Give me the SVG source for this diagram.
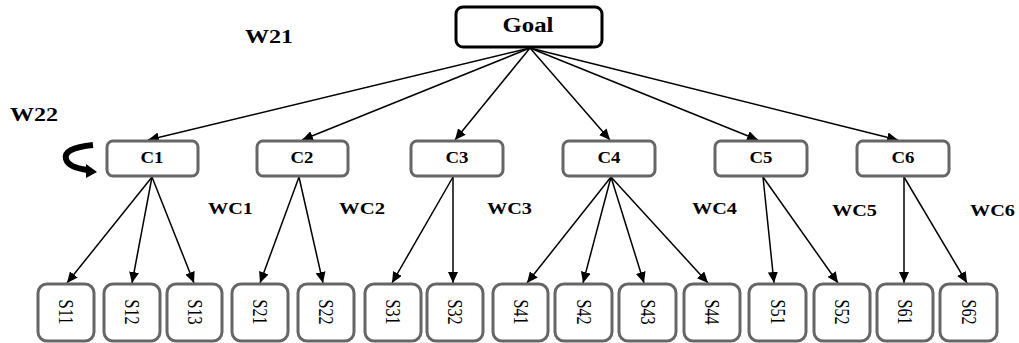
<svg xmlns="http://www.w3.org/2000/svg" width="1019" height="343" viewBox="0 0 1019 343">
<style>
.cbox{fill:#fff;stroke:#666;stroke-width:3}
.sbox{fill:#fff;stroke:#666;stroke-width:3}
.gbox{fill:#fff;stroke:#000;stroke-width:3}
text{font-family:'Liberation Serif','Times New Roman',Times,'DejaVu Serif',serif}
.b{font-weight:bold;fill:#000}
.s{fill:#000;font-size:20px}
.e{stroke:#000;stroke-width:1.5;fill:none;marker-end:url(#ah)}
</style>
<defs>
<marker id="ah" markerUnits="userSpaceOnUse" markerWidth="12" markerHeight="10" refX="11" refY="5" orient="auto">
<path d="M0,0 L11,5 L0,10 z" fill="#000"/>
</marker>
</defs>
<g id="edges">
<line class="e" x1="530" y1="48" x2="148" y2="140"/>
<line class="e" x1="530" y1="48" x2="302" y2="140"/>
<line class="e" x1="530" y1="48" x2="455" y2="140"/>
<line class="e" x1="530" y1="48" x2="610" y2="140"/>
<line class="e" x1="530" y1="48" x2="758" y2="140"/>
<line class="e" x1="530" y1="48" x2="898" y2="140"/>
<line class="e" x1="152" y1="177" x2="67" y2="283"/>
<line class="e" x1="152" y1="177" x2="132" y2="283"/>
<line class="e" x1="152" y1="177" x2="194" y2="283"/>
<line class="e" x1="299" y1="177" x2="260" y2="283"/>
<line class="e" x1="299" y1="177" x2="323" y2="283"/>
<line class="e" x1="453" y1="177" x2="392" y2="283"/>
<line class="e" x1="453" y1="177" x2="453" y2="283"/>
<line class="e" x1="611" y1="177" x2="527" y2="283"/>
<line class="e" x1="611" y1="177" x2="583" y2="283"/>
<line class="e" x1="611" y1="177" x2="644" y2="283"/>
<line class="e" x1="611" y1="177" x2="708" y2="283"/>
<line class="e" x1="763" y1="177" x2="774" y2="283"/>
<line class="e" x1="763" y1="177" x2="838" y2="283"/>
<line class="e" x1="904" y1="177" x2="904" y2="283"/>
<line class="e" x1="904" y1="177" x2="967" y2="283"/>
</g>
<g id="loop">
<path d="M93,145 C72,147 64,152 66,159 C68,166 76,168 87,170" fill="none" stroke="#000" stroke-width="6"/>
<path d="M86,164 L97,172 L86,178 z" fill="#000"/>
</g>
<g id="Goal">
<rect class="gbox" x="456" y="7" width="146" height="40" rx="7"/>
<text class="b" x="528" y="32" font-size="20" text-anchor="middle" textLength="51" lengthAdjust="spacingAndGlyphs">Goal</text>
</g>
<g id="C1"><rect class="cbox" x="107" y="141" width="91" height="35" rx="6"/><text class="b" x="152" y="163" font-size="17" text-anchor="middle" textLength="23" lengthAdjust="spacingAndGlyphs">C1</text></g>
<g id="C2"><rect class="cbox" x="257" y="141" width="91" height="35" rx="6"/><text class="b" x="302" y="163" font-size="17" text-anchor="middle" textLength="23" lengthAdjust="spacingAndGlyphs">C2</text></g>
<g id="C3"><rect class="cbox" x="411" y="141" width="92" height="35" rx="6"/><text class="b" x="457" y="163" font-size="17" text-anchor="middle" textLength="23" lengthAdjust="spacingAndGlyphs">C3</text></g>
<g id="C4"><rect class="cbox" x="563" y="141" width="92" height="35" rx="6"/><text class="b" x="609" y="163" font-size="17" text-anchor="middle" textLength="23" lengthAdjust="spacingAndGlyphs">C4</text></g>
<g id="C5"><rect class="cbox" x="715" y="141" width="92" height="35" rx="6"/><text class="b" x="761" y="163" font-size="17" text-anchor="middle" textLength="23" lengthAdjust="spacingAndGlyphs">C5</text></g>
<g id="C6"><rect class="cbox" x="857" y="141" width="92" height="35" rx="6"/><text class="b" x="903" y="163" font-size="17" text-anchor="middle" textLength="23" lengthAdjust="spacingAndGlyphs">C6</text></g>
<g id="S11"><rect class="sbox" x="38" y="284" width="56" height="57" rx="9"/><text class="s" transform="translate(59,312) rotate(90)" text-anchor="middle" textLength="25" lengthAdjust="spacingAndGlyphs">S11</text></g>
<g id="S12"><rect class="sbox" x="104" y="284" width="56" height="57" rx="9"/><text class="s" transform="translate(125,312) rotate(90)" text-anchor="middle" textLength="25" lengthAdjust="spacingAndGlyphs">S12</text></g>
<g id="S13"><rect class="sbox" x="167" y="284" width="55" height="57" rx="9"/><text class="s" transform="translate(187.5,312) rotate(90)" text-anchor="middle" textLength="25" lengthAdjust="spacingAndGlyphs">S13</text></g>
<g id="S21"><rect class="sbox" x="232" y="284" width="56" height="57" rx="9"/><text class="s" transform="translate(253,312) rotate(90)" text-anchor="middle" textLength="25" lengthAdjust="spacingAndGlyphs">S21</text></g>
<g id="S22"><rect class="sbox" x="298" y="284" width="56" height="57" rx="9"/><text class="s" transform="translate(319,312) rotate(90)" text-anchor="middle" textLength="25" lengthAdjust="spacingAndGlyphs">S22</text></g>
<g id="S31"><rect class="sbox" x="365" y="284" width="56" height="57" rx="9"/><text class="s" transform="translate(386,312) rotate(90)" text-anchor="middle" textLength="25" lengthAdjust="spacingAndGlyphs">S31</text></g>
<g id="S32"><rect class="sbox" x="427" y="284" width="56" height="57" rx="9"/><text class="s" transform="translate(448,312) rotate(90)" text-anchor="middle" textLength="25" lengthAdjust="spacingAndGlyphs">S32</text></g>
<g id="S41"><rect class="sbox" x="493" y="284" width="55" height="57" rx="9"/><text class="s" transform="translate(513.5,312) rotate(90)" text-anchor="middle" textLength="25" lengthAdjust="spacingAndGlyphs">S41</text></g>
<g id="S42"><rect class="sbox" x="555" y="284" width="57" height="57" rx="9"/><text class="s" transform="translate(576.5,312) rotate(90)" text-anchor="middle" textLength="25" lengthAdjust="spacingAndGlyphs">S42</text></g>
<g id="S43"><rect class="sbox" x="619" y="284" width="57" height="57" rx="9"/><text class="s" transform="translate(640.5,312) rotate(90)" text-anchor="middle" textLength="25" lengthAdjust="spacingAndGlyphs">S43</text></g>
<g id="S44"><rect class="sbox" x="684" y="284" width="56" height="57" rx="9"/><text class="s" transform="translate(705,312) rotate(90)" text-anchor="middle" textLength="25" lengthAdjust="spacingAndGlyphs">S44</text></g>
<g id="S51"><rect class="sbox" x="749" y="284" width="57" height="57" rx="9"/><text class="s" transform="translate(770.5,312) rotate(90)" text-anchor="middle" textLength="25" lengthAdjust="spacingAndGlyphs">S51</text></g>
<g id="S52"><rect class="sbox" x="814" y="284" width="56" height="57" rx="9"/><text class="s" transform="translate(835,312) rotate(90)" text-anchor="middle" textLength="25" lengthAdjust="spacingAndGlyphs">S52</text></g>
<g id="S61"><rect class="sbox" x="877" y="284" width="56" height="57" rx="9"/><text class="s" transform="translate(898,312) rotate(90)" text-anchor="middle" textLength="25" lengthAdjust="spacingAndGlyphs">S61</text></g>
<g id="S62"><rect class="sbox" x="940" y="284" width="57" height="57" rx="9"/><text class="s" transform="translate(961.5,312) rotate(90)" text-anchor="middle" textLength="25" lengthAdjust="spacingAndGlyphs">S62</text></g>
<g id="labels">
<text class="b" x="245" y="43" font-size="18" textLength="48" lengthAdjust="spacingAndGlyphs">W21</text>
<text class="b" x="10" y="121" font-size="18" textLength="48" lengthAdjust="spacingAndGlyphs">W22</text>
<text class="b" x="208" y="214" font-size="16" textLength="45" lengthAdjust="spacingAndGlyphs">WC1</text>
<text class="b" x="339" y="214" font-size="16" textLength="46" lengthAdjust="spacingAndGlyphs">WC2</text>
<text class="b" x="487" y="214" font-size="16" textLength="45" lengthAdjust="spacingAndGlyphs">WC3</text>
<text class="b" x="692" y="214" font-size="16" textLength="45" lengthAdjust="spacingAndGlyphs">WC4</text>
<text class="b" x="832" y="216" font-size="16" textLength="45" lengthAdjust="spacingAndGlyphs">WC5</text>
<text class="b" x="970" y="216" font-size="16" textLength="45" lengthAdjust="spacingAndGlyphs">WC6</text>
</g>
</svg>
